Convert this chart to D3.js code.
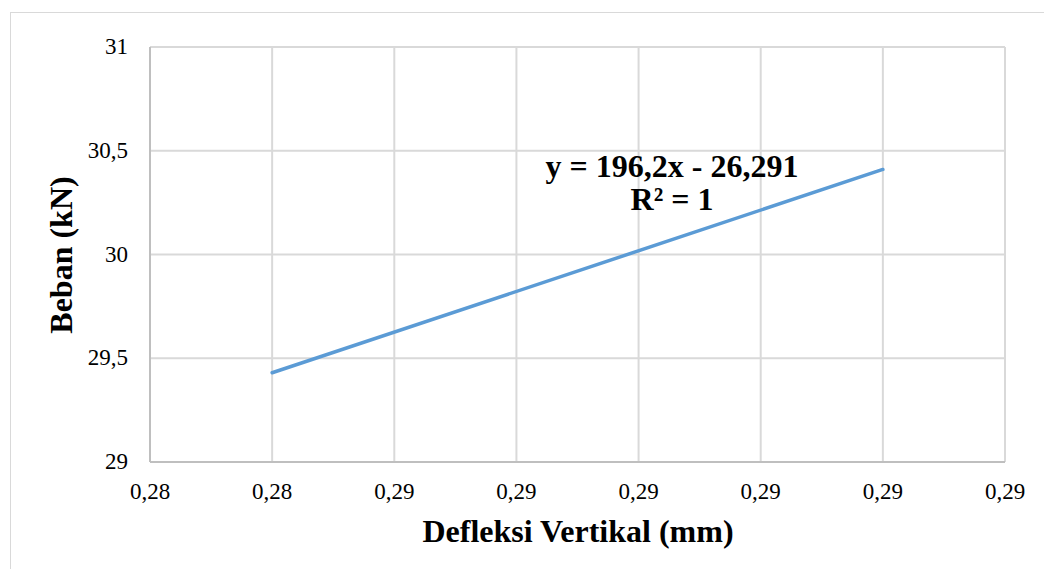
<!DOCTYPE html>
<html>
<head>
<meta charset="utf-8">
<script src="https://cdn.jsdelivr.net/npm/d3@7"></script>
<style>
  body { margin: 0; background: #fff; }
  svg text { font-family: "Liberation Serif", "Times New Roman", serif; fill: #000; }
</style>
</head>
<body>
<div id="chart"></div>
<script>
// data
const deflection = [0.284, 0.289];
const load = [29.43, 30.41];
const xTicks = [0.283, 0.284, 0.285, 0.286, 0.287, 0.288, 0.289, 0.290];
const xTickLabels = ["0,28", "0,28", "0,29", "0,29", "0,29", "0,29", "0,29", "0,29"];
const yTicks = [29, 29.5, 30, 30.5, 31];
const yTickLabels = ["29", "29,5", "30", "30,5", "31"];
const equation = ["y = 196,2x - 26,291", "R² = 1"];

const width = 1044, height = 569;
const margin = { top: 47, right: 39, bottom: 107, left: 150 };
const w = width - margin.left - margin.right;
const h = height - margin.top - margin.bottom;

const svg = d3.select("#chart").append("svg")
  .attr("width", width)
  .attr("height", height);

// chart border
svg.append("rect")
  .attr("x", 10.5).attr("y", 12.5)
  .attr("width", 1050).attr("height", 580)
  .attr("fill", "none")
  .attr("stroke", "#d9d9d9")
  .attr("stroke-width", 1);

const g = svg.append("g")
  .attr("transform", "translate(" + margin.left + "," + margin.top + ")");

const x = d3.scaleLinear().domain([0.283, 0.290]).range([0, w]);
const y = d3.scaleLinear().domain([29, 31]).range([h, 0]);

// grid
g.append("g")
  .selectAll("line")
  .data(xTicks)
  .join("line")
  .attr("x1", d => x(d)).attr("x2", d => x(d))
  .attr("y1", 0).attr("y2", h)
  .attr("stroke", "#d9d9d9")
  .attr("stroke-width", 2);

g.append("g")
  .selectAll("line")
  .data(yTicks)
  .join("line")
  .attr("x1", 0).attr("x2", w)
  .attr("y1", d => y(d)).attr("y2", d => y(d))
  .attr("stroke", "#d9d9d9")
  .attr("stroke-width", 2);

// left / bottom axis lines slightly darker
g.append("line")
  .attr("x1", 0).attr("x2", 0).attr("y1", 0).attr("y2", h)
  .attr("stroke", "#bfbfbf").attr("stroke-width", 2);
g.append("line")
  .attr("x1", 0).attr("x2", w).attr("y1", h).attr("y2", h)
  .attr("stroke", "#bfbfbf").attr("stroke-width", 2);

// tick labels
g.append("g")
  .selectAll("text")
  .data(xTicks)
  .join("text")
  .attr("x", d => x(d))
  .attr("y", h + 37)
  .attr("text-anchor", "middle")
  .style("font-size", "23px")
  .text((d, i) => xTickLabels[i]);

g.append("g")
  .selectAll("text")
  .data(yTicks)
  .join("text")
  .attr("x", -22)
  .attr("y", d => y(d) + 7)
  .attr("text-anchor", "end")
  .style("font-size", "23px")
  .text((d, i) => yTickLabels[i]);

// series line
const line = d3.line()
  .x((d, i) => x(deflection[i]))
  .y(d => y(d));

g.append("path")
  .datum(load)
  .attr("d", line)
  .attr("fill", "none")
  .attr("stroke", "#5b9bd5")
  .attr("stroke-width", 3.5)
  .attr("stroke-linecap", "round");

// trendline label
g.append("g")
  .selectAll("text")
  .data(equation)
  .join("text")
  .attr("x", 672 - margin.left)
  .attr("y", (d, i) => 177 - margin.top + i * 33)
  .attr("text-anchor", "middle")
  .style("font-size", "32px")
  .style("font-weight", "bold")
  .text(d => d);

// axis titles
svg.append("text")
  .attr("x", 578)
  .attr("y", 542)
  .attr("text-anchor", "middle")
  .style("font-size", "32px")
  .style("font-weight", "bold")
  .text("Defleksi Vertikal (mm)");

svg.append("text")
  .attr("transform", "translate(72,255)rotate(-90)")
  .attr("text-anchor", "middle")
  .style("font-size", "32px")
  .style("font-weight", "bold")
  .text("Beban (kN)");
</script>
</body>
</html>
